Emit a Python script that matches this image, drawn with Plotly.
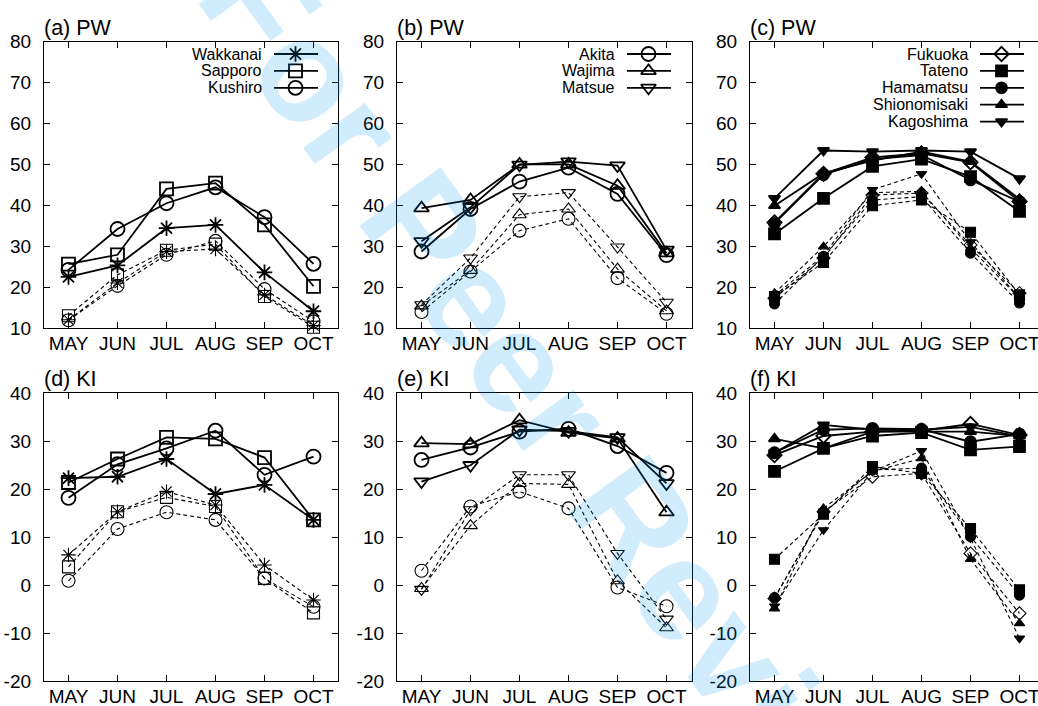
import plotly.graph_objects as go

# ---------------- data ----------------
months = ["MAY", "JUN", "JUL", "AUG", "SEP", "OCT"]
pw_ticks = [10, 20, 30, 40, 50, 60, 70, 80]
ki_ticks = [-20, -10, 0, 10, 20, 30, 40]

stations_a = ["Wakkanai", "Sapporo", "Kushiro"]
stations_b = ["Akita", "Wajima", "Matsue"]
stations_c = ["Fukuoka", "Tateno", "Hamamatsu", "Shionomisaki", "Kagoshima"]

# (a) PW  – solid / dashed
pw_a_solid = [
    [22.5, 25.3, 34.4, 35.2, 23.6, 14.1],
    [25.6, 27.9, 44.0, 45.4, 35.2, 20.2],
    [24.2, 34.2, 40.5, 44.4, 37.1, 25.7],
]
pw_a_dashed = [
    [12.0, 21.0, 28.7, 29.3, 18.1, 10.6],
    [13.0, 23.0, 29.0, 30.5, 17.7, 10.2],
    [11.9, 20.3, 27.9, 31.3, 19.5, 11.6],
]
# (b) PW
pw_b_solid = [
    [28.7, 39.1, 45.8, 49.2, 42.8, 27.8],
    [39.3, 41.3, 50.0, 50.0, 44.8, 28.3],
    [31.2, 39.5, 49.9, 50.7, 49.7, 29.1],
]
pw_b_dashed = [
    [13.9, 23.8, 33.8, 36.7, 22.2, 13.5],
    [15.4, 24.1, 37.7, 39.1, 24.4, 14.2],
    [15.7, 27.1, 42.1, 43.1, 29.8, 16.3],
]
# (c) PW
pw_c_solid = [
    [35.8, 47.7, 51.7, 52.7, 50.5, 40.9],
    [33.0, 41.7, 49.5, 51.3, 47.0, 38.5],
    [35.6, 47.5, 51.3, 52.3, 46.2, 40.9],
    [39.9, 47.8, 50.9, 53.1, 50.7, 41.5],
    [41.7, 53.4, 53.1, 53.4, 53.1, 46.5],
]
pw_c_dashed = [
    [17.3, 27.1, 42.5, 43.0, 30.3, 18.5],
    [17.7, 26.0, 39.9, 41.3, 33.4, 18.1],
    [15.9, 27.5, 41.3, 42.1, 28.3, 16.1],
    [18.5, 29.9, 43.1, 43.4, 29.5, 17.3],
    [17.9, 27.7, 43.8, 47.7, 31.0, 17.3],
]
# (d) KI
ki_d_solid = [
    [22.3, 22.6, 26.3, 19.0, 20.9, 13.6],
    [21.4, 26.3, 30.8, 30.5, 26.6, 13.6],
    [18.2, 25.2, 28.5, 32.2, 23.0, 26.8],
]
ki_d_dashed = [
    [6.3, 15.3, 19.5, 16.7, 4.2, -3.1],
    [3.8, 15.3, 18.3, 16.4, 1.4, -5.8],
    [0.9, 11.7, 15.2, 13.6, 1.4, -4.5],
]
# (e) KI
ki_e_solid = [
    [26.1, 28.7, 32.0, 32.6, 29.0, 23.4],
    [29.6, 29.4, 34.4, 31.8, 30.6, 15.2],
    [21.6, 25.0, 32.4, 32.1, 30.8, 21.2],
]
ki_e_dashed = [
    [3.0, 16.4, 19.5, 16.0, -0.5, -4.4],
    [-0.7, 12.4, 21.2, 21.0, 0.9, -8.9],
    [-0.9, 15.7, 23.0, 23.0, 6.6, -7.1],
]
# (f) KI
ki_f_solid = [
    [27.1, 31.1, 32.0, 32.2, 33.6, 31.3],
    [23.7, 28.5, 31.1, 31.8, 28.2, 28.9],
    [27.6, 32.4, 32.7, 32.5, 29.9, 31.5],
    [30.5, 28.5, 32.0, 32.0, 32.0, 31.1],
    [27.6, 33.4, 32.4, 32.4, 33.0, 31.0],
]
ki_f_dashed = [
    [-2.8, 15.3, 22.6, 23.3, 6.6, -5.9],
    [5.4, 14.8, 24.7, 23.3, 11.8, -1.0],
    [-2.6, 15.0, 24.0, 24.4, 10.1, -2.1],
    [-4.9, 16.0, 23.7, 26.4, 5.4, -8.0],
    [-4.4, 11.5, 23.7, 28.0, 9.8, -11.1],
]

# ---------------- styles / layout ----------------
FONT = "Liberation Sans, Arial, Helvetica, sans-serif"
W, H = 1038, 706
PX_MONTH = 49.0
col_l = [44.0, 397.0, 750.0]
col_r = [338.0, 692.0, 1038.0]
row_t = [41.7, 393.3]
row_b = [328.0, 681.0]

sym_a = ["asterisk-open", "square-open", "circle-open"]
sym_b = ["circle-open", "triangle-up-open", "triangle-down-open"]
sym_c = ["diamond-open", "square", "circle", "triangle-up", "triangle-down"]
size_open = {"asterisk-open": 13, "square-open": 13, "circle-open": 14,
             "triangle-up-open": 13, "triangle-down-open": 13, "diamond-open": 11,
             "square": 11, "circle": 11, "triangle-up": 10, "triangle-down": 10}

panels = [
    dict(title="(a) PW", col=0, row=0, yr=(10, 80), ticks=pw_ticks, names=stations_a,
         solid=pw_a_solid, dashed=pw_a_dashed, syms=sym_a, legend=True),
    dict(title="(b) PW", col=1, row=0, yr=(10, 80), ticks=pw_ticks, names=stations_b,
         solid=pw_b_solid, dashed=pw_b_dashed, syms=sym_b, legend=True),
    dict(title="(c) PW", col=2, row=0, yr=(10, 80), ticks=pw_ticks, names=stations_c,
         solid=pw_c_solid, dashed=pw_c_dashed, syms=sym_c, legend=True),
    dict(title="(d) KI", col=0, row=1, yr=(-20, 40), ticks=ki_ticks, names=stations_a,
         solid=ki_d_solid, dashed=ki_d_dashed, syms=sym_a, legend=False),
    dict(title="(e) KI", col=1, row=1, yr=(-20, 40), ticks=ki_ticks, names=stations_b,
         solid=ki_e_solid, dashed=ki_e_dashed, syms=sym_b, legend=False),
    dict(title="(f) KI", col=2, row=1, yr=(-20, 40), ticks=ki_ticks, names=stations_c,
         solid=ki_f_solid, dashed=ki_f_dashed, syms=sym_c, legend=False),
]

fig = go.Figure()
layout = dict(
    width=W, height=H, margin=dict(l=0, r=0, t=0, b=0),
    paper_bgcolor="white", plot_bgcolor="rgba(0,0,0,0)",
    showlegend=False, font=dict(family=FONT, color="black"),
    template="none",
)
annotations = []
xi = list(range(len(months)))

for i, p in enumerate(panels, start=1):
    xs = "" if i == 1 else str(i)
    xname, yname = f"x{xs}", f"y{xs}"
    l, r = col_l[p["col"]], col_r[p["col"]]
    t, b = row_t[p["row"]], row_b[p["row"]]
    x_max = -0.5 + (r - l) / PX_MONTH
    ymin, ymax = p["yr"]
    px_unit = (b - t) / (ymax - ymin)
    full_panel = p["col"] < 2

    layout[f"xaxis{xs}"] = dict(
        domain=[l / W, r / W], range=[-0.5, x_max], anchor=yname,
        tickvals=xi, ticktext=months, ticks="inside", ticklen=6, tickwidth=1,
        tickcolor="black", showline=True, linecolor="black", linewidth=1.3,
        mirror="ticks", showgrid=False, zeroline=False, automargin=False,
        tickfont=dict(family=FONT, size=19, color="black"), ticklabelstandoff=-2,
        ticklabeloverflow="allow",
    )
    layout[f"yaxis{xs}"] = dict(
        domain=[1 - b / H, 1 - t / H], range=[ymin, ymax], anchor=xname,
        tickvals=p["ticks"], ticktext=[str(v) for v in p["ticks"]],
        ticks="inside", ticklen=6, tickwidth=1, tickcolor="black",
        showline=True, linecolor="black", linewidth=1.3,
        mirror="ticks" if full_panel else False,
        showgrid=False, zeroline=False, automargin=False,
        tickfont=dict(family=FONT, size=19, color="black"), ticklabelstandoff=8,
        ticklabeloverflow="allow",
    )

    # dashed series
    for vals, sym in zip(p["dashed"], p["syms"]):
        fig.add_trace(go.Scatter(
            x=xi, y=vals, mode="lines+markers", xaxis=xname, yaxis=yname,
            line=dict(color="black", width=1.1, dash="4px,3px"),
            marker=dict(symbol=sym, size=size_open[sym] - 1, color="black",
                        line=dict(color="black", width=1.1)),
            hoverinfo="skip", cliponaxis=False,
        ))
    # solid series
    for vals, sym, name in zip(p["solid"], p["syms"], p["names"]):
        fig.add_trace(go.Scatter(
            x=xi, y=vals, mode="lines+markers", xaxis=xname, yaxis=yname, name=name,
            line=dict(color="black", width=1.8),
            marker=dict(symbol=sym, size=size_open[sym], color="black",
                        line=dict(color="black", width=1.8)),
            cliponaxis=False,
        ))

    # panel title
    annotations.append(dict(
        text=p["title"], xref=f"{xname} domain", yref=f"{yname} domain",
        x=0, y=1, xanchor="left", yanchor="bottom", showarrow=False,
        font=dict(family=FONT, size=21.5, color="black"), xshift=-2, yshift=0,
    ))

    # legend keys (gnuplot style: text, then line sample with symbol)
    if p["legend"]:
        frame_right = 5.5
        for k, (name, sym) in enumerate(zip(p["names"], p["syms"])):
            y_px = 12.3 + 16.9 * k
            yv = ymax - y_px / px_unit
            x0 = frame_right - 64 / PX_MONTH
            x1 = frame_right - 20 / PX_MONTH
            xm = frame_right - 42.5 / PX_MONTH
            fig.add_trace(go.Scatter(
                x=[x0, x1], y=[yv, yv], mode="lines", xaxis=xname, yaxis=yname,
                line=dict(color="black", width=1.8), hoverinfo="skip", cliponaxis=False,
            ))
            fig.add_trace(go.Scatter(
                x=[xm], y=[yv], mode="markers", xaxis=xname, yaxis=yname,
                marker=dict(symbol=sym, size=size_open[sym], color="black",
                            line=dict(color="black", width=1.8)),
                hoverinfo="skip", cliponaxis=False,
            ))
            annotations.append(dict(
                text=name, xref=xname, yref=yname,
                x=frame_right - 74 / PX_MONTH, y=yv, xanchor="right", yanchor="middle",
                showarrow=False, font=dict(family=FONT, size=16, color="black"),
            ))

# watermark (semi-transparent so lines beneath stay dark)
annotations.append(dict(
    text="<b>For Peer Review</b>", xref="paper", yref="paper", x=0.545, y=0.4,
    xanchor="center", yanchor="middle", showarrow=False, textangle=54,
    font=dict(family=FONT, size=145, color="rgba(0,150,240,0.18)"),
))

layout["annotations"] = annotations
fig.update_layout(**layout)
fig.write_html("out.html")
